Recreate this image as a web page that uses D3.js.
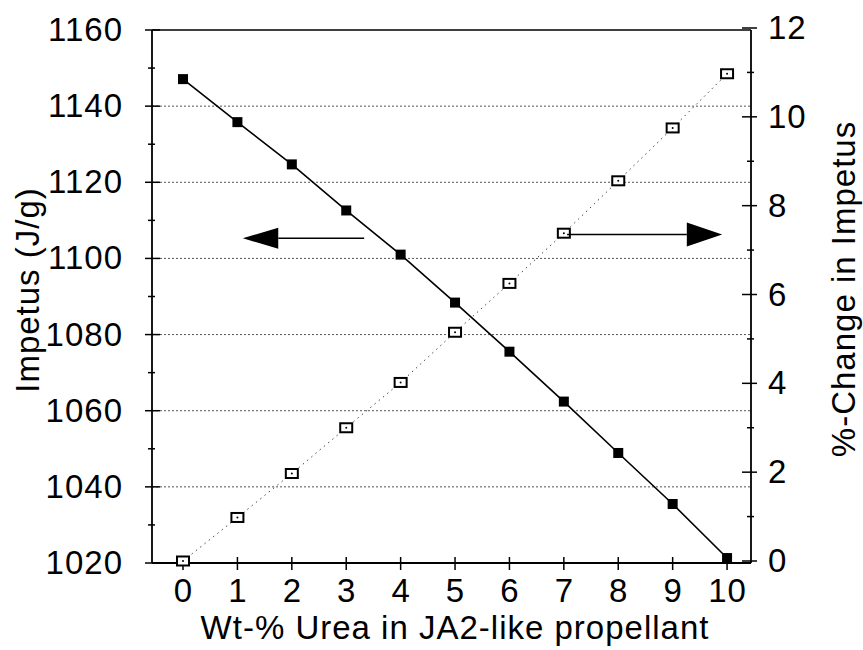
<!DOCTYPE html>
<html>
<head>
<meta charset="utf-8">
<script src="https://cdn.jsdelivr.net/npm/d3@7"></script>
<style>
  body { margin: 0; background: #fff; }
  text { font-family: "Liberation Sans", Arial, sans-serif; fill: #000; letter-spacing: 1px; }
</style>
</head>
<body>
<div id="chart"></div>
<script>
// wt-% urea in the propellant
const urea = [0, 1, 2, 3, 4, 5, 6, 7, 8, 9, 10];
// impetus (J/g), left axis, filled squares
const impetus = [1147.1, 1135.8, 1124.7, 1112.6, 1101.0, 1088.4, 1075.5, 1062.4, 1048.9, 1035.5, 1021.3];
// %-change in impetus, right axis, open squares
const pctChange = [0, 0.98, 1.97, 3.0, 4.02, 5.15, 6.25, 7.38, 8.56, 9.75, 10.97];

const xTicks = [0, 1, 2, 3, 4, 5, 6, 7, 8, 9, 10];
const leftTicks = [1020, 1040, 1060, 1080, 1100, 1120, 1140, 1160];
const leftMinor = [1030, 1050, 1070, 1090, 1110, 1130, 1150];
const rightTicks = [0, 2, 4, 6, 8, 10, 12];
const rightMinor = [1, 3, 5, 7, 9, 11];

// arrows in data units: [line start x, head base x, tip x, y on left axis]
const leftArrow = [3.33, 1.75, 1.1, 1105.3];
const rightArrow = [7.06, 9.26, 9.91, 1106.3];

const W = 863, H = 650;
const x0 = 152, x1 = 751, yTop = 30, yBot = 563;

const svg = d3.select("#chart").append("svg")
  .attr("width", W).attr("height", H);

const x = d3.scaleLinear().domain([-0.57, 10.44]).range([x0, x1]);
const yL = d3.scaleLinear().domain([1020, 1160]).range([yBot, yTop]);
const yR = d3.scaleLinear().domain([0, 12]).range([561, 28]);

const fontSize = "33px";

// horizontal dotted grid lines (left axis majors)
svg.append("g").selectAll("line")
  .data(leftTicks.filter(d => d > 1020 && d < 1160))
  .enter().append("line")
  .attr("x1", x0).attr("x2", x1)
  .attr("y1", d => yL(d)).attr("y2", d => yL(d))
  .attr("stroke", "#555").attr("stroke-width", 1)
  .attr("stroke-dasharray", "2,2");

// frame: top border
svg.append("line")
  .attr("x1", x0).attr("x2", x1).attr("y1", yTop).attr("y2", yTop)
  .attr("stroke", "#000").attr("stroke-width", 1.6);

// left axis
const gL = svg.append("g").attr("transform", `translate(${x0},0)`)
  .call(d3.axisLeft(yL).tickValues(leftTicks).tickFormat(d3.format("d")).tickSize(0).tickPadding(29));
gL.select(".domain").attr("stroke-width", 1.8).attr("d", `M0,${yTop}V${yBot}`);
gL.selectAll("text").style("font-size", fontSize);
gL.selectAll(".maj").data(leftTicks).enter().append("line")
  .attr("x1", -7).attr("x2", 8).attr("y1", d => yL(d)).attr("y2", d => yL(d))
  .attr("stroke", "#000").attr("stroke-width", 1.5);
gL.selectAll(".min").data(leftMinor).enter().append("line")
  .attr("x1", -4).attr("x2", 3).attr("y1", d => yL(d)).attr("y2", d => yL(d))
  .attr("stroke", "#000").attr("stroke-width", 1.5);

// right axis
const gR = svg.append("g").attr("transform", `translate(${x1},0)`)
  .call(d3.axisRight(yR).tickValues(rightTicks).tickSize(0).tickPadding(17));
gR.select(".domain").attr("stroke-width", 1.8).attr("d", `M0,${yTop}V${yBot}`);
gR.selectAll("text").style("font-size", fontSize);
gR.selectAll(".maj").data(rightTicks).enter().append("line")
  .attr("x1", -9).attr("x2", 6).attr("y1", d => yR(d)).attr("y2", d => yR(d))
  .attr("stroke", "#000").attr("stroke-width", 1.5);
gR.selectAll(".min").data(rightMinor).enter().append("line")
  .attr("x1", -4).attr("x2", 3).attr("y1", d => yR(d)).attr("y2", d => yR(d))
  .attr("stroke", "#000").attr("stroke-width", 1.5);

// bottom axis
const gB = svg.append("g").attr("transform", `translate(0,${yBot})`)
  .call(d3.axisBottom(x).tickValues(xTicks).tickSize(0).tickPadding(16));
gB.select(".domain").attr("stroke-width", 1.8).attr("d", `M${x0},0H${x1}`);
gB.selectAll("text").style("font-size", fontSize);
gB.selectAll(".maj").data(xTicks).enter().append("line")
  .attr("x1", d => x(d)).attr("x2", d => x(d)).attr("y1", -6).attr("y2", 7)
  .attr("stroke", "#000").attr("stroke-width", 1.5);

// axis titles
svg.append("text")
  .attr("x", 455).attr("y", 639)
  .attr("text-anchor", "middle").style("font-size", fontSize)
  .text("Wt-% Urea in JA2-like propellant");

svg.append("text")
  .attr("transform", "translate(27,290) rotate(-90)")
  .attr("text-anchor", "middle").attr("dy", "0.35em").style("font-size", fontSize)
  .text("Impetus (J/g)");

svg.append("text")
  .attr("transform", "translate(843,289) rotate(-90)")
  .attr("text-anchor", "middle").attr("dy", "0.35em").style("font-size", fontSize)
  .text("%-Change in Impetus");

// %-change series: dotted line + open squares
const pts = urea.map((u, i) => ({ u, imp: impetus[i], pct: pctChange[i] }));

svg.append("path")
  .datum(pts)
  .attr("fill", "none").attr("stroke", "#444").attr("stroke-width", 1)
  .attr("stroke-dasharray", "1.5,4")
  .attr("d", d3.line().x(d => x(d.u)).y(d => yR(d.pct)));

svg.append("g").selectAll("rect")
  .data(pts).enter().append("rect")
  .attr("x", d => x(d.u) - 6).attr("y", d => yR(d.pct) - 4.5)
  .attr("width", 12).attr("height", 9)
  .attr("fill", "#fff").attr("stroke", "#000").attr("stroke-width", 2);

svg.append("g").selectAll("circle")
  .data(pts).enter().append("circle")
  .attr("cx", d => x(d.u)).attr("cy", d => yR(d.pct)).attr("r", 1)
  .attr("fill", "#000");

// impetus series: solid line + filled squares
svg.append("path")
  .datum(pts)
  .attr("fill", "none").attr("stroke", "#000").attr("stroke-width", 1.6)
  .attr("d", d3.line().x(d => x(d.u)).y(d => yL(d.imp)));

svg.append("g").selectAll("rect")
  .data(pts).enter().append("rect")
  .attr("x", d => x(d.u) - 5).attr("y", d => yL(d.imp) - 5)
  .attr("width", 10).attr("height", 10)
  .attr("fill", "#000");

// arrows
function arrow(a, headHalf) {
  const [xs, xb, xt, yv] = a;
  const yy = yL(yv);
  svg.append("line")
    .attr("x1", x(xs)).attr("x2", x(xb)).attr("y1", yy).attr("y2", yy)
    .attr("stroke", "#000").attr("stroke-width", 1.6);
  svg.append("path")
    .attr("d", `M${x(xt)},${yy}L${x(xb)},${yy - headHalf}L${x(xb)},${yy + headHalf}Z`)
    .attr("fill", "#000");
}
arrow(leftArrow, 10.5);
arrow(rightArrow, 12);
</script>
</body>
</html>
